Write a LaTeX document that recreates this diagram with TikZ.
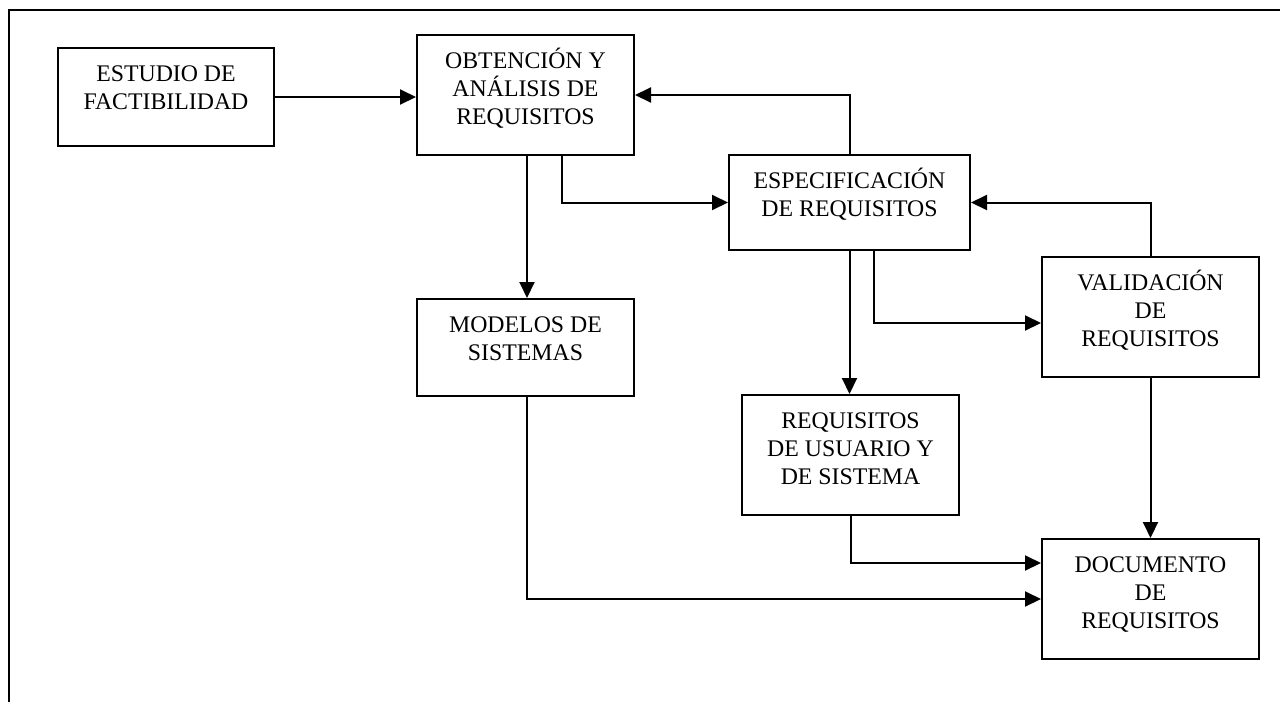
\documentclass[tikz,border=0pt]{standalone}
\usepackage{fontspec}
\setmainfont{Liberation Serif}
\usetikzlibrary{arrows.meta}
% fixed-size box contents: text starts near the top, lines centred
\newcommand{\boxtext}[3]{\parbox[c][#2pt][t]{#1pt}{\centering\fontsize{23.8}{28}\selectfont\vspace*{12pt}\rule{0pt}{21pt}#3\par}}
\begin{document}
\begin{tikzpicture}[x=1pt,y=-1pt,
  blk/.style={draw,line width=2pt,inner sep=0pt,fill=white},
  flow/.style={line width=2pt,-{Triangle[length=16pt,width=15pt]}},
  frame/.style={line width=2.5pt}]
\useasboundingbox (0,0) rectangle (1280,702);
\draw[frame] (9,702) -- (9,10) -- (1280,10);

\node[blk] (est) at (166,97)     {\boxtext{216}{98}{ESTUDIO DE\\FACTIBILIDAD}};
\node[blk] (obt) at (525.5,95)   {\boxtext{217}{120}{OBTENCIÓN Y\\ANÁLISIS DE\\REQUISITOS}};
\node[blk] (esp) at (849.5,202.5){\boxtext{241}{95}{ESPECIFICACIÓN\\DE REQUISITOS}};
\node[blk] (mod) at (525.5,347.5){\boxtext{217}{97}{MODELOS DE\\SISTEMAS}};
\node[blk] (val) at (1150.5,317) {\boxtext{217}{120}{VALIDACIÓN\\DE\\REQUISITOS}};
\node[blk] (req) at (850.5,455)  {\boxtext{217}{120}{REQUISITOS\\DE USUARIO Y\\DE SISTEMA}};
\node[blk] (doc) at (1150.5,599) {\boxtext{217}{120}{DOCUMENTO\\DE\\REQUISITOS}};

\draw[flow] (est.east) -- (est.east -| obt.west);
\draw[flow] (esp.north) |- (obt.east);
\draw[flow] ([xshift=36.5pt]obt.south) |- (esp.west);
\draw[flow] ([xshift=1.5pt]obt.south) -- ([xshift=1.5pt]mod.north);
\draw[flow] (esp.south) -- (esp.south |- req.north);
\draw[flow] ([xshift=24.5pt]esp.south) |- ([yshift=-6pt]val.west);
\draw[flow] (val.north) |- (esp.east);
\draw[flow] (val.south) -- (doc.north);
\draw[flow] (req.south) |- ([yshift=36pt]doc.west);
\draw[flow] ([xshift=1.5pt]mod.south) |- (doc.west);
\end{tikzpicture}
\end{document}
